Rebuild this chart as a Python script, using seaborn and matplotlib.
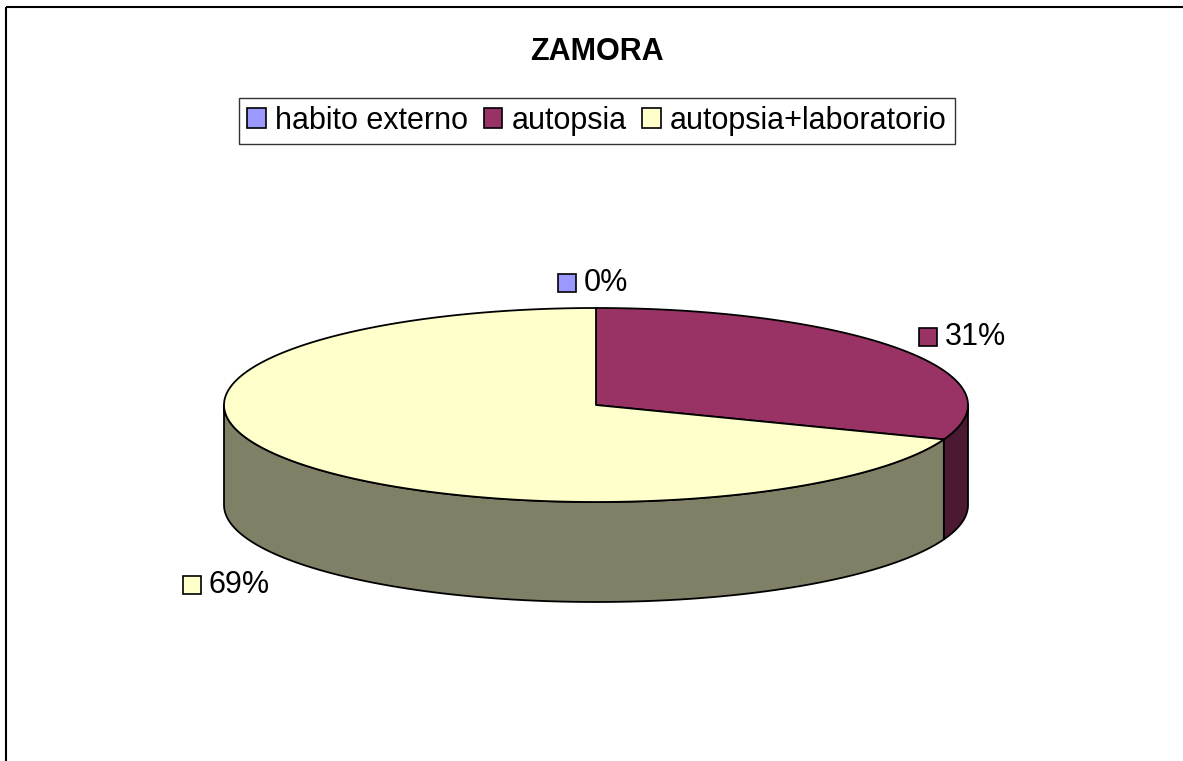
import numpy as np
import matplotlib
matplotlib.use("Agg")
import matplotlib.pyplot as plt
import seaborn as sns
from matplotlib.patches import Polygon, Rectangle, Patch

sns.set_theme(style="white")
plt.rcParams["font.family"] = ["Liberation Sans", "DejaVu Sans"]
plt.rcParams["text.color"] = "black"

# Data
categories = ["habito externo", "autopsia", "autopsia+laboratorio"]
counts = [0, 4, 9]
top_colors = ["#9999FF", "#993366", "#FFFFCC"]
side_colors = ["#4C4C80", "#4C1933", "#808066"]
title = "ZAMORA"

# geometry of the pie (pixel units)
cx, cy = 596, 405
a, b = 372, 97
depth = 100


def ell(t):
    t = np.radians(t)
    return cx + a * np.cos(t), cy - b * np.sin(t)


fig = plt.figure(figsize=(11.83, 7.61), dpi=100)
ax = fig.add_axes([0, 0, 1, 1])
ax.set_xlim(0, 1183)
ax.set_ylim(761, 0)
ax.axis("off")

# outer border
ax.add_patch(Rectangle((6.5, 6.5), 1200, 800, fill=False, edgecolor="black", lw=1.5))

ax.text(597, 52, title, ha="center", va="center", fontsize=22, fontweight="bold", color="black")

fracs = np.array(counts, dtype=float) / sum(counts)
starts = 90 - 360 * np.concatenate([[0], np.cumsum(fracs)[:-1]])
ends = starts - 360 * fracs

# side walls (front half only)
for s, e, col in zip(starts, ends, side_colors):
    lo, hi = max(e, -180), min(s, 0)
    if lo >= hi:
        continue
    t = np.linspace(lo, hi, 100)
    x, y = ell(t)
    pts = np.vstack([np.column_stack([x, y]), np.column_stack([x[::-1], y[::-1] + depth])])
    ax.add_patch(Polygon(pts, closed=True, facecolor=col, edgecolor="black", lw=1.3, joinstyle="round"))

# top faces
for s, e, col in zip(starts, ends, top_colors):
    if s == e:
        continue
    t = np.linspace(s, e, 200)
    x, y = ell(t)
    pts = np.vstack([[cx, cy], np.column_stack([x, y])])
    ax.add_patch(Polygon(pts, closed=True, facecolor=col, edgecolor="black", lw=1.3, joinstyle="round"))

# data labels with key squares
for f, s, e, col in zip(fracs, starts, ends, top_colors):
    mid = np.radians((s + e) / 2)
    lx = cx + a * 1.18 * np.cos(mid)
    ly = cy - b * 1.3 * np.sin(mid)
    if np.sin(mid) < -0.01:
        ly += depth + 8
        lx += 14 * np.sign(np.cos(mid))
    else:
        ly += 4
    txt = f"{round(f * 100):.0f}%"
    ax.add_patch(Rectangle((lx - 38, ly - 9), 18, 18, facecolor=col, edgecolor="black", lw=1.2))
    ax.text(lx - 12, ly, txt, ha="left", va="center", fontsize=22, color="black")

handles = [Patch(facecolor=c, edgecolor="black", lw=1.2) for c in top_colors]
leg = ax.legend(handles, categories, loc="center", bbox_to_anchor=(597 / 1183, 1 - 121 / 761),
                bbox_transform=fig.transFigure, ncol=3, fontsize=22, frameon=True, fancybox=False,
                handlelength=0.62, handleheight=0.62, handletextpad=0.3, columnspacing=0.5,
                borderpad=0.25, borderaxespad=0, labelcolor="black")
leg.get_frame().set_edgecolor("black")
leg.get_frame().set_linewidth(1.0)

fig.savefig("out.png", dpi=100)
